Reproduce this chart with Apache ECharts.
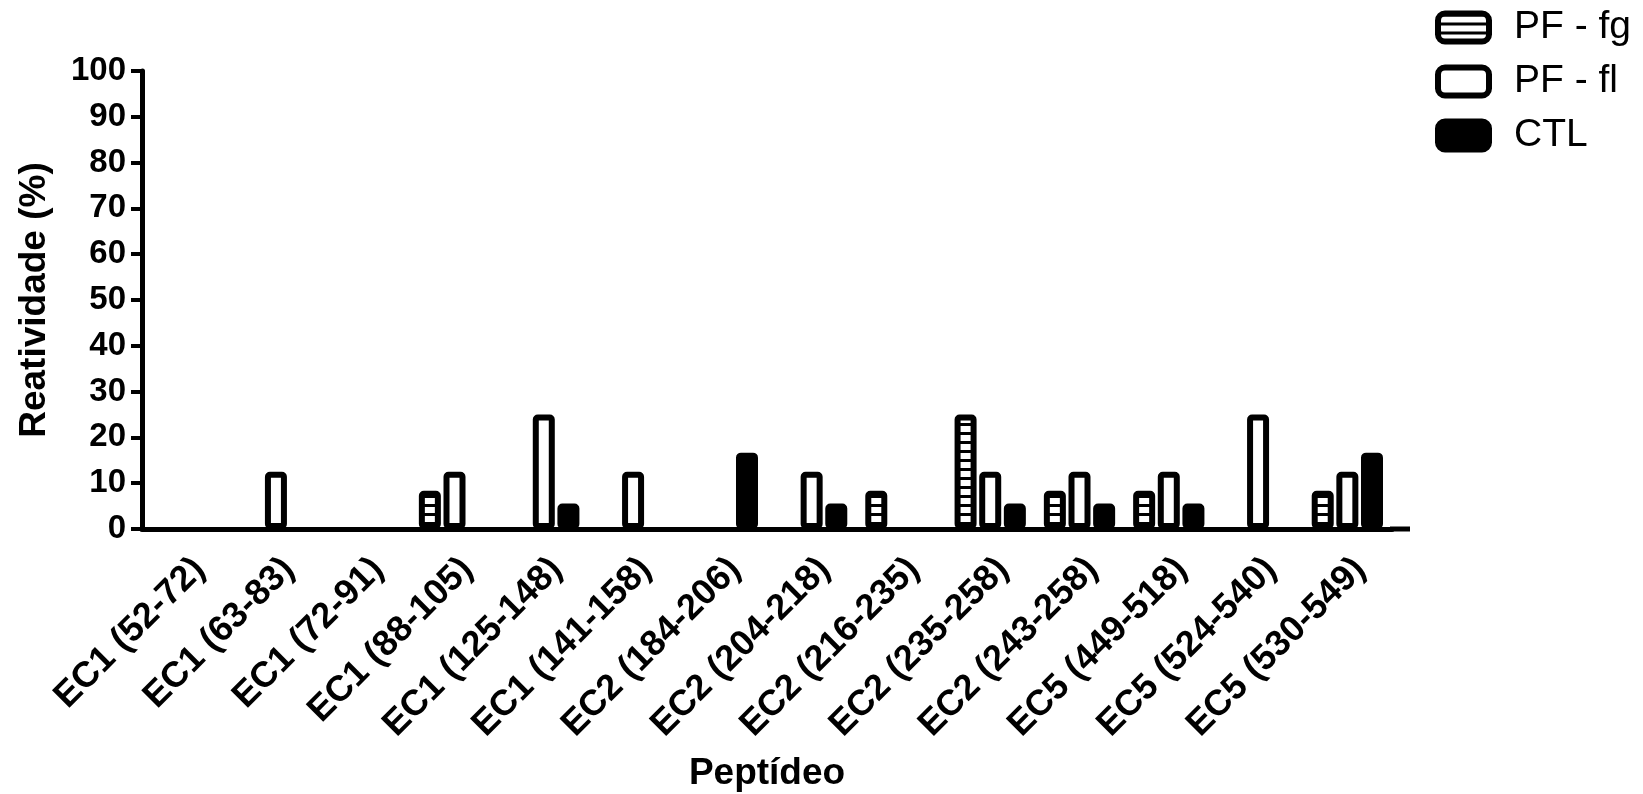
<!DOCTYPE html>
<html>
<head>
<meta charset="utf-8">
<script src="https://cdn.jsdelivr.net/npm/echarts@6/dist/echarts.min.js"></script>
<style>
html,body{margin:0;padding:0;background:#fff;}
#main{width:1643px;height:794px;}
</style>
</head>
<body>
<div id="main"></div>
<script>
const categories = ['EC1 (52-72)','EC1 (63-83)','EC1 (72-91)','EC1 (88-105)','EC1 (125-148)','EC1 (141-158)','EC2 (184-206)','EC2 (204-218)','EC2 (216-235)','EC2 (235-258)','EC2 (243-258)','EC5 (449-518)','EC5 (524-540)','EC5 (530-549)'];
const pfFg = [0,0,0,8.33,0,0,0,0,8.33,25,8.33,8.33,0,8.33];
const pfFl = [0,12.5,0,12.5,25,12.5,0,12.5,0,12.5,12.5,12.5,25,12.5];
const ctl  = [0,0,0,0,5.56,0,16.67,5.56,0,5.56,5.56,5.56,0,16.67];
const yTicks = [0,10,20,30,40,50,60,70,80,90,100];

const FONT = '"Liberation Sans", Arial, Helvetica, sans-serif';
const GL = 142, GT = 71, GW = 1250, GH = 458;

function stripeCanvas(){
  const c = document.createElement('canvas');
  c.width = 8; c.height = 9;
  const ctx = c.getContext('2d');
  ctx.fillStyle = '#fff'; ctx.fillRect(0,0,8,9);
  ctx.fillStyle = '#000'; ctx.fillRect(0,0,8,3);
  return c;
}
const stripe = {image: stripeCanvas(), repeat: 'repeat'};

const chart = echarts.init(document.getElementById('main'), null, {renderer:'canvas'});
function barSeries(name, data, fill){
  return {
    name: name, type: 'bar',
    data: data.map(v => v === 0 ? null : v),
    barWidth: 22, barGap: '12%',
    itemStyle: {color: fill, borderColor: '#000', borderWidth: 6, borderRadius: 2},
    emphasis: {disabled: true}
  };
}
chart.setOption({
  animation: false,
  backgroundColor: '#fff',
  textStyle: {fontFamily: FONT},
  grid: {left: GL, top: GT, width: GW, height: GH, containLabel: false, outerBoundsMode: 'none'},
  legend: {
    orient: 'vertical', left: 1430, top: 3,
    itemWidth: 51, itemHeight: 28, itemGap: 15,
    itemStyle: {borderWidth: 6, borderColor: '#000'},
    textStyle: {fontSize: 39, color: '#000', fontFamily: FONT, padding: [0,0,0,20]},
    data: ['PF - fg','PF - fl','CTL']
  },
  xAxis: {
    type: 'category', data: categories,
    name: 'Peptídeo', nameLocation: 'middle', nameGap: 226,
    nameTextStyle: {fontSize: 37, fontWeight: 'bold', color: '#000', fontFamily: FONT},
    axisLine: {lineStyle: {color: '#000', width: 5}},
    axisTick: {alignWithLabel: true, length: 12, lineStyle: {color: '#000', width: 4}},
    axisLabel: {rotate: 45, interval: 0, margin: 22, verticalAlign: 'top', fontSize: 36, fontWeight: 'bold', color: '#000', fontFamily: FONT}
  },
  yAxis: {
    type: 'value', min: 0, max: 100, interval: 10,
    name: 'Reatividade (%)', nameLocation: 'middle', nameGap: 89,
    nameTextStyle: {fontSize: 37, fontWeight: 'bold', color: '#000', fontFamily: FONT},
    axisLine: {show: true, lineStyle: {color: '#000', width: 5}},
    axisTick: {show: true, length: 11, lineStyle: {color: '#000', width: 4}},
    splitLine: {show: false},
    axisLabel: {margin: 16, fontSize: 33, fontWeight: 'bold', color: '#000', fontFamily: FONT,
      formatter: function(v){ return yTicks.indexOf(v) >= 0 ? String(v) : ''; }}
  },
  graphic: [{
    type: 'line', z: 10,
    shape: {x1: GL + GW - 2, y1: GT + GH, x2: 1410, y2: GT + GH},
    style: {stroke: '#000', lineWidth: 5}
  }],
  series: [
    barSeries('PF - fg', pfFg, stripe),
    barSeries('PF - fl', pfFl, '#fff'),
    barSeries('CTL', ctl, '#000')
  ]
});
</script>
</body>
</html>
